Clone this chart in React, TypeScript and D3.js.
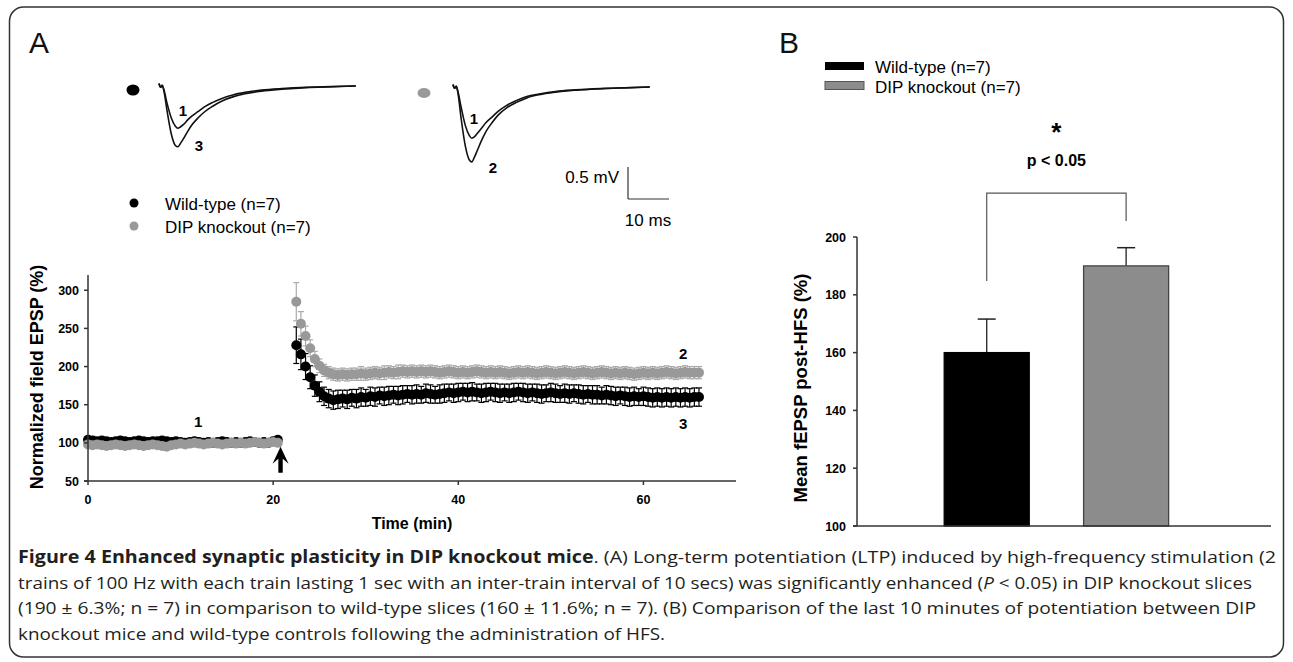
import React from "react";
import * as d3 from "d3";

// ---- panel A: LTP time course (min) ----
const timeMin = [
  0, 0.5, 1, 1.5, 2, 2.5, 3, 3.5, 4, 4.5, 5, 5.5, 6, 6.5, 7, 7.5, 8, 8.5, 9, 9.5,
  10, 10.5, 11, 11.5, 12, 12.5, 13, 13.5, 14, 14.5, 15, 15.5, 16, 16.5, 17, 17.5, 18, 18.5, 19, 19.5,
  20, 20.5,
  22.5, 23, 23.5, 24, 24.5, 25, 25.5, 26, 26.5, 27, 27.5, 28, 28.5, 29, 29.5, 30, 30.5, 31, 31.5, 32,
  32.5, 33, 33.5, 34, 34.5, 35, 35.5, 36, 36.5, 37, 37.5, 38, 38.5, 39, 39.5, 40, 40.5, 41, 41.5, 42,
  42.5, 43, 43.5, 44, 44.5, 45, 45.5, 46, 46.5, 47, 47.5, 48, 48.5, 49, 49.5, 50, 50.5, 51, 51.5, 52,
  52.5, 53, 53.5, 54, 54.5, 55, 55.5, 56, 56.5, 57, 57.5, 58, 58.5, 59, 59.5, 60, 60.5, 61, 61.5, 62,
  62.5, 63, 63.5, 64, 64.5, 65, 65.5, 66,
];

const wtMean = [
  104, 103, 102, 103, 102, 101, 102, 103, 102, 101, 102, 103, 102, 101, 102, 102, 103, 102, 101, 102,
  101, 100, 101, 102, 101, 100, 101, 100, 101, 102, 101, 100, 101, 100, 101, 102, 101, 100, 101, 100,
  102, 104,
  228, 216, 200, 186, 175, 167, 161, 158, 156, 157, 158, 157, 159, 158, 160, 159, 161, 160, 162, 161,
  162, 163, 162, 163, 164, 163, 164, 163, 165, 164, 163, 164, 165, 166, 165, 166, 167, 166, 167, 166,
  165, 166, 167, 166, 165, 166, 165, 166, 167, 166, 165, 166, 165, 164, 165, 166, 165, 164, 165, 164,
  165, 164, 163, 164, 163, 163, 162, 163, 162, 161, 162, 161, 160, 161, 160, 161, 160, 159, 160, 159,
  160, 159, 160, 159, 160, 159, 160, 160,
];

const wtSem = [
  4, 3, 3, 4, 3, 3, 3, 4, 3, 3, 3, 4, 3, 3, 3, 3, 4, 3, 3, 3,
  3, 3, 3, 4, 3, 3, 3, 3, 3, 4, 3, 3, 3, 3, 3, 4, 3, 3, 3, 3,
  3, 4,
  24, 20, 17, 15, 14, 13, 12, 12, 12, 12, 11, 12, 11, 12, 12, 11, 12, 12, 11, 12,
  12, 11, 12, 12, 11, 12, 12, 11, 12, 12, 11, 12, 12, 11, 12, 12, 11, 12, 12, 11,
  12, 12, 11, 12, 12, 11, 12, 12, 11, 12, 12, 11, 12, 12, 11, 12, 12, 11, 12, 12,
  11, 12, 12, 11, 12, 12, 11, 12, 12, 12, 11, 12, 12, 12, 11, 12, 12, 12, 12, 12,
  12, 12, 12, 12, 12, 12, 12, 12,
];

const koMean = [
  98, 97, 98, 97, 96, 97, 98, 97, 96, 97, 98, 97, 96, 97, 98, 97, 96, 95, 97, 98,
  99, 98, 99, 100, 99, 98, 99, 100, 99, 98, 99, 100, 99, 100, 99, 100, 101, 100, 99, 100,
  101, 100,
  285, 256, 240, 224, 210, 201, 195, 192, 190, 189, 190, 189, 190, 190, 191, 190, 191, 192, 191, 192,
  193, 192, 193, 194, 193, 194, 193, 194, 193, 194, 193, 192, 193, 194, 193, 192, 193, 192, 193, 194,
  193, 192, 193, 192, 193, 192, 191, 192, 193, 192, 193, 192, 191, 192, 193, 192, 191, 192, 193, 192,
  191, 192, 193, 192, 191, 192, 193, 192, 191, 192, 191, 192, 191, 190, 191, 192, 191, 192, 191, 192,
  193, 192, 191, 192, 193, 192, 192, 192,
];

const koSem = [
  3, 3, 3, 3, 3, 3, 3, 3, 3, 3, 3, 3, 3, 3, 3, 3, 3, 3, 3, 3,
  3, 3, 3, 3, 3, 3, 3, 3, 3, 3, 3, 3, 3, 3, 3, 3, 3, 3, 3, 3,
  3, 3,
  25, 16, 13, 11, 10, 9, 8, 8, 8, 8, 8, 8, 8, 8, 9, 8, 8, 8, 8, 9,
  8, 8, 9, 8, 8, 8, 8, 8, 8, 8, 8, 8, 8, 8, 8, 8, 8, 8, 8, 8,
  8, 8, 8, 8, 8, 8, 8, 8, 8, 8, 8, 8, 8, 8, 8, 8, 8, 8, 8, 8,
  8, 8, 8, 8, 8, 8, 8, 8, 8, 8, 8, 8, 8, 8, 8, 8, 8, 8, 8, 8,
  8, 8, 8, 8, 8, 8, 8, 8,
];

const hfsTime = 20.8;
const ltpXTicks = [0, 20, 40, 60];
const ltpYTicks = [50, 100, 150, 200, 250, 300];

// ---- panel A: sample fEPSP traces (ms, mV) ----
const traceTimeMs = [0, 0.4, 0.8, 1.2, 2, 3, 4, 4.6, 5.2, 6, 7, 8, 9.5, 11, 13, 15.5, 18, 21, 25, 30, 36, 42, 48];
const wtTrace1 = [0.04, -0.02, 0.01, -0.06, -0.28, -0.5, -0.63, -0.66, -0.64, -0.6, -0.53, -0.47, -0.4, -0.33, -0.26, -0.19, -0.14, -0.1, -0.065, -0.04, -0.02, -0.01, 0];
const wtTrace3 = [0.04, -0.02, 0.01, -0.08, -0.4, -0.75, -0.93, -0.95, -0.9, -0.82, -0.71, -0.61, -0.5, -0.41, -0.32, -0.23, -0.17, -0.12, -0.08, -0.05, -0.025, -0.012, 0];
const koTrace1 = [0.04, -0.02, 0.01, -0.07, -0.32, -0.6, -0.76, -0.8, -0.78, -0.72, -0.64, -0.56, -0.47, -0.38, -0.29, -0.21, -0.15, -0.11, -0.07, -0.045, -0.025, -0.012, 0];
const koTrace2 = [0.04, -0.02, 0.01, -0.09, -0.5, -0.92, -1.14, -1.17, -1.1, -0.98, -0.83, -0.7, -0.56, -0.44, -0.33, -0.24, -0.17, -0.12, -0.08, -0.05, -0.027, -0.013, 0];

// ---- panel B: mean of last 10 min ----
const barGroups = ["Wild-type (n=7)", "DIP knockout (n=7)"];
const barMeans = [160, 190];
const barSems = [11.6, 6.3];
const barFills = ["#000000", "#8c8c8c"];
const barYTicks = [100, 120, 140, 160, 180, 200];

const captionLines = [
  "Figure 4 Enhanced synaptic plasticity in DIP knockout mice",
  ". (A) Long-term potentiation (LTP) induced by high-frequency stimulation (2",
  "trains of 100 Hz with each train lasting 1 sec with an inter-train interval of 10 secs) was significantly enhanced (",
  "P",
  " < 0.05) in DIP knockout slices",
  "(190 \u00b1 6.3%; n = 7) in comparison to wild-type slices (160 \u00b1 11.6%; n = 7). (B) Comparison of the last 10 minutes of potentiation between DIP",
  "knockout mice and wild-type controls following the administration of HFS.",
];

const SANS = "'Liberation Sans', Arial, sans-serif";
const CAP = "'Open Sans', 'Noto Sans', sans-serif";

const xL = d3.scaleLinear().domain([0, 70]).range([88, 736]);
const yL = d3.scaleLinear().domain([50, 320]).range([481, 275]);

const xT = d3.scaleLinear().domain([0, 10]).range([0, 41]);
const yT = d3.scaleLinear().domain([0, -0.5]).range([0, 32]);

const yB = d3.scaleLinear().domain([100, 200]).range([526, 237]);
const xB = d3
  .scaleBand<string>()
  .domain(barGroups)
  .range([857, 1271])
  .paddingInner(0.39)
  .paddingOuter(0.68)
  .align(0.46);

const traceLine = d3
  .line<number>()
  .x((_, i) => xT(traceTimeMs[i]))
  .y((d) => yT(d))
  .curve(d3.curveMonotoneX);

const Series = ({ mean, sem, fill, err }: { mean: number[]; sem: number[]; fill: string; err: string }) => (
  <g>
    {timeMin.map((t, i) => {
      const cx = xL(t);
      const hi = yL(mean[i] + sem[i]);
      const lo = yL(mean[i] - sem[i]);
      return (
        <g key={i} stroke={err} strokeWidth={1.2}>
          <line x1={cx} x2={cx} y1={hi} y2={lo} />
          <line x1={cx - 3} x2={cx + 3} y1={hi} y2={hi} />
          <line x1={cx - 3} x2={cx + 3} y1={lo} y2={lo} />
        </g>
      );
    })}
    {timeMin.map((t, i) => (
      <circle key={i} cx={xL(t)} cy={yL(mean[i])} r={5} fill={fill} />
    ))}
  </g>
);

export default function App() {
  const axisColor = "#333";
  return (
    <svg
      width={1293}
      height={662}
      style={{ position: "absolute", left: 0, top: 0, background: "#fff" }}
      fontFamily={SANS}
    >
      <rect x={0} y={0} width={1293} height={662} fill="#fff" />
      <rect x={9.5} y={7} width={1274} height={650} rx={14} fill="none" stroke="#333" strokeWidth={1.5} />

      {/* ---------- Panel A ---------- */}
      <text x={29} y={53} fontSize={30} fill="#111">A</text>

      {/* sample traces */}
      <ellipse cx={133} cy={90} rx={6.5} ry={5.5} fill="#000" />
      <g transform="translate(159,86)" fill="none" stroke="#111" strokeWidth={1.6}>
        <path d={traceLine(wtTrace1) || ""} />
        <path d={traceLine(wtTrace3) || ""} />
      </g>
      <text x={183} y={116} fontSize={15} fontWeight="bold" textAnchor="middle">1</text>
      <text x={199} y={151} fontSize={15} fontWeight="bold" textAnchor="middle">3</text>

      <ellipse cx={424} cy={93} rx={6.5} ry={5} fill="#999" />
      <g transform="translate(453,87)" fill="none" stroke="#111" strokeWidth={1.6}>
        <path d={traceLine(koTrace1) || ""} />
        <path d={traceLine(koTrace2) || ""} />
      </g>
      <text x={474} y={124} fontSize={15} fontWeight="bold" textAnchor="middle">1</text>
      <text x={493} y={173} fontSize={15} fontWeight="bold" textAnchor="middle">2</text>

      {/* scale bar */}
      <g transform="translate(628,199)" stroke="#333" strokeWidth={1.2}>
        <line x1={0} x2={0} y1={0} y2={-(yT(-0.5) - yT(0))} />
        <line x1={0} x2={xT(10)} y1={0} y2={0} />
      </g>
      <text x={619} y={183} fontSize={17} textAnchor="end">0.5 mV</text>
      <text x={648} y={226} fontSize={17} textAnchor="middle">10 ms</text>

      {/* legend A */}
      <circle cx={134} cy={203} r={4.5} fill="#000" />
      <text x={165} y={210} fontSize={17}>Wild-type (n=7)</text>
      <circle cx={134} cy={226} r={4.5} fill="#999" />
      <text x={165} y={233} fontSize={17}>DIP knockout (n=7)</text>

      {/* LTP plot */}
      <Series mean={wtMean} sem={wtSem} fill="#000" err="#000" />
      <Series mean={koMean} sem={koSem} fill="#999" err="#aaa" />

      <g transform={`translate(${xL(hfsTime)},${yL(95)})`}>
        <path d="M0,0 L-8,17 L-2.2,12 L-2.2,26 L2.2,26 L2.2,12 L8,17 Z" fill="#000" />
      </g>

      <text x={xL(11.9)} y={yL(129) + 6} fontSize={15} fontWeight="bold" textAnchor="middle">1</text>
      <text x={xL(64.3)} y={yL(218) + 6} fontSize={15} fontWeight="bold" textAnchor="middle">2</text>
      <text x={xL(64.3)} y={yL(126) + 6} fontSize={15} fontWeight="bold" textAnchor="middle">3</text>

      <g stroke={axisColor} strokeWidth={1.5}>
        <line x1={xL(0)} x2={xL(0)} y1={yL(320)} y2={yL(50)} />
        <line x1={xL(0) - 4} x2={xL(70)} y1={yL(50)} y2={yL(50)} />
        {ltpYTicks.map((v) => (
          <line key={v} x1={xL(0) - 4} x2={xL(0)} y1={yL(v)} y2={yL(v)} />
        ))}
        {ltpXTicks.map((v) => (
          <line key={v} x1={xL(v)} x2={xL(v)} y1={yL(50)} y2={yL(50) + 4} />
        ))}
      </g>
      {ltpYTicks.map((v) => (
        <text key={v} x={xL(0) - 9} y={yL(v) + 4.5} fontSize={12.5} fontWeight="bold" textAnchor="end">
          {v}
        </text>
      ))}
      {ltpXTicks.map((v) => (
        <text key={v} x={xL(v)} y={504} fontSize={12.5} fontWeight="bold" textAnchor="middle">
          {v}
        </text>
      ))}
      <text x={412} y={529} fontSize={16} fontWeight="bold" textAnchor="middle">Time (min)</text>
      <text
        transform="translate(43,377) rotate(-90)"
        fontSize={18}
        fontWeight="bold"
        textAnchor="middle"
      >
        Normalized field EPSP (%)
      </text>

      {/* ---------- Panel B ---------- */}
      <text x={779} y={53} fontSize={30} fill="#111">B</text>
      <rect x={825} y={62} width={39} height={8} fill="#000" />
      <text x={875} y={73} fontSize={17}>{barGroups[0]}</text>
      <rect x={825} y={81.5} width={39} height={8} fill="#8c8c8c" stroke="#555" strokeWidth={1} />
      <text x={875} y={93} fontSize={17}>{barGroups[1]}</text>

      {barGroups.map((g, i) => {
        const x0 = xB(g) as number;
        const w = xB.bandwidth();
        const cx = x0 + w / 2;
        return (
          <g key={g}>
            <line x1={cx} x2={cx} y1={yB(barMeans[i])} y2={yB(barMeans[i] + barSems[i])} stroke="#222" strokeWidth={1.3} />
            <line x1={cx - 9} x2={cx + 9} y1={yB(barMeans[i] + barSems[i])} y2={yB(barMeans[i] + barSems[i])} stroke="#222" strokeWidth={1.5} />
            <rect
              x={x0}
              y={yB(barMeans[i])}
              width={w}
              height={yB(100) - yB(barMeans[i])}
              fill={barFills[i]}
              stroke={i === 0 ? "#000" : "#444"}
              strokeWidth={1.3}
            />
          </g>
        );
      })}

      {/* significance bracket */}
      {(() => {
        const c0 = (xB(barGroups[0]) as number) + xB.bandwidth() / 2;
        const c1 = (xB(barGroups[1]) as number) + xB.bandwidth() / 2;
        return (
          <g>
            <path
              d={`M${c0},${yB(184.8)} L${c0},${yB(215.2)} L${c1},${yB(215.2)} L${c1},${yB(205.5)}`}
              fill="none"
              stroke="#555"
              strokeWidth={1.2}
            />
            <text x={(c0 + c1) / 2} y={141} fontSize={26} fontWeight="bold" textAnchor="middle">*</text>
            <text x={(c0 + c1) / 2} y={166} fontSize={16} fontWeight="bold" textAnchor="middle">p &lt; 0.05</text>
          </g>
        );
      })()}

      <g stroke={axisColor} strokeWidth={1.5}>
        <line x1={857} x2={857} y1={yB(200)} y2={yB(100)} />
        <line x1={853} x2={1271} y1={yB(100)} y2={yB(100)} />
        {barYTicks.map((v) => (
          <line key={v} x1={853} x2={857} y1={yB(v)} y2={yB(v)} />
        ))}
      </g>
      {barYTicks.map((v) => (
        <text key={v} x={846} y={yB(v) + 4.5} fontSize={12.5} fontWeight="bold" textAnchor="end">
          {v}
        </text>
      ))}
      <text
        transform="translate(807,388) rotate(-90)"
        fontSize={18.5}
        fontWeight="bold"
        textAnchor="middle"
      >
        Mean fEPSP post-HFS (%)
      </text>

      {/* ---------- caption ---------- */}
      <g fontFamily={CAP} fontSize={17} fill="#231f20">
        <text x={18} y={563} textLength={1258} lengthAdjust="spacingAndGlyphs">
          <tspan fontWeight="bold">{captionLines[0]}</tspan>
          <tspan>{captionLines[1]}</tspan>
        </text>
        <text x={18} y={589} textLength={1234} lengthAdjust="spacingAndGlyphs">
          <tspan>{captionLines[2]}</tspan>
          <tspan fontStyle="italic">{captionLines[3]}</tspan>
          <tspan>{captionLines[4]}</tspan>
        </text>
        <text x={18} y={614} textLength={1238} lengthAdjust="spacingAndGlyphs">
          {captionLines[5]}
        </text>
        <text x={18} y={640} textLength={647} lengthAdjust="spacingAndGlyphs">
          {captionLines[6]}
        </text>
      </g>
    </svg>
  );
}
